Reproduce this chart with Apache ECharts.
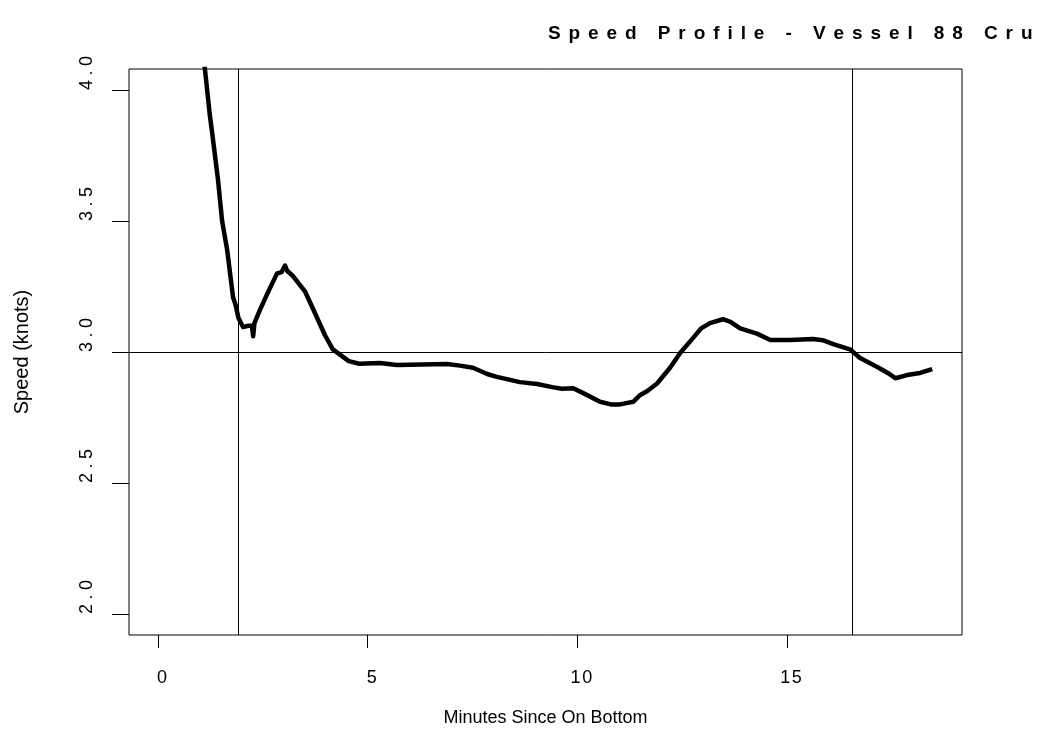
<!DOCTYPE html>
<html>
<head>
<meta charset="utf-8">
<title>Speed Profile</title>
<script src="https://cdn.jsdelivr.net/npm/echarts@6/dist/echarts.min.js"></script>
<style>
html, body { margin: 0; padding: 0; background: #fff; }
#chart { width: 1041px; height: 745px; }
</style>
</head>
<body>
<div id="chart"></div>
<script>
// 数据：航速曲线（分钟, 节）
var minutes = [0.0, 0.5, 0.9, 1.12, 1.24, 1.29, 1.43, 1.53, 1.65, 1.79, 1.85, 1.92, 2.03, 2.15, 2.24, 2.27, 2.30,
    2.43, 2.6, 2.84, 2.95, 3.03, 3.08, 3.22, 3.51, 3.74, 3.98, 4.17, 4.34, 4.55, 4.8, 5.29, 5.7, 6.3, 6.89,
    7.2, 7.51, 7.85, 8.08, 8.63, 9.04, 9.4, 9.63, 9.9, 10.14, 10.54, 10.8, 11.02, 11.33, 11.5, 11.66, 11.9,
    12.21, 12.45, 12.74, 12.95, 13.16, 13.47, 13.65, 13.88, 14.28, 14.6, 15.07, 15.62, 15.85, 16.1, 16.5,
    16.74, 17.15, 17.4, 17.58, 17.86, 18.17, 18.46];
var speed = [6.0, 5.0, 4.4, 4.08, 3.90, 3.84, 3.66, 3.50, 3.39, 3.21, 3.18, 3.13, 3.095, 3.10, 3.10, 3.06, 3.11,
    3.16, 3.22, 3.30, 3.305, 3.33, 3.31, 3.29, 3.23, 3.15, 3.065, 3.01, 2.99, 2.965, 2.955, 2.958, 2.95, 2.952, 2.954,
    2.948, 2.94, 2.916, 2.905, 2.885, 2.878, 2.866, 2.86, 2.862, 2.843, 2.81, 2.80, 2.80, 2.81, 2.836, 2.85, 2.88,
    2.94, 2.996, 3.05, 3.09, 3.11, 3.125, 3.115, 3.09, 3.07, 3.046, 3.046, 3.05, 3.045, 3.03, 3.01,
    2.977, 2.943, 2.92, 2.90, 2.912, 2.92, 2.935];

var xTicks = [0, 5, 10, 15];
var yTicks = [2.0, 2.5, 3.0, 3.5, 4.0];
var vLines = [1.91, 16.55];   // 竖线位置（分钟）
var hLines = [3.0];           // 横线位置（节）

var titleText = "Speed Profile - Vessel 88 Cru";
var xName = "Minutes Since On Bottom";
var yName = "Speed (knots)";

/*
 * 字符间加间隔，模拟原图的字距
 */
function spaced(s, sep) {
    return s.split("").join(sep);
}

var points = [];
for (var i = 0; i < minutes.length; i ++) {
    points.push([minutes[i], speed[i]]);
}

var markData = [];
for (var i = 0; i < vLines.length; i ++) {
    markData.push({xAxis: vLines[i]});
}
for (var i = 0; i < hLines.length; i ++) {
    markData.push({yAxis: hLines[i]});
}

var FONT = "'Liberation Sans', Arial, sans-serif";

var chart = echarts.init(document.getElementById("chart"));
chart.setOption({
    animation: false,
    backgroundColor: "#fff",
    textStyle: { fontFamily: FONT, color: "#000" },
    title: {
        text: spaced(titleText, "\u2005\u2006"),
        left: 543,
        top: 19,
        textStyle: { fontFamily: FONT, fontSize: 19, fontWeight: "bold", color: "#000" }
    },
    grid: {
        left: 129, right: 79, top: 69, bottom: 110,
        show: true, borderColor: "#000", borderWidth: 1, backgroundColor: "transparent"
    },
    xAxis: {
        type: "value",
        min: -0.69, max: 19.17,
        name: xName,
        nameLocation: "middle",
        nameGap: 74,
        nameTextStyle: { fontFamily: FONT, fontSize: 18, color: "#000" },
        axisLine: { show: false, onZero: false },
        splitLine: { show: false },
        axisTick: { show: true, customValues: xTicks, length: 13, lineStyle: { color: "#000", width: 1 } },
        axisLabel: {
            customValues: xTicks,
            margin: 34,
            fontFamily: FONT,
            fontSize: 18,
            color: "#000",
            padding: [0, 0, 0, 8],
            formatter: function(v) { return spaced(String(v), "\u200a"); }
        }
    },
    yAxis: {
        type: "value",
        min: 1.92, max: 4.08,
        name: yName,
        nameLocation: "middle",
        nameRotate: 90,
        nameGap: 97,
        nameTextStyle: { fontFamily: FONT, fontSize: 20, color: "#000" },
        axisLine: { show: false, onZero: false },
        splitLine: { show: false },
        axisTick: { show: true, customValues: yTicks, length: 17, lineStyle: { color: "#000", width: 1 } },
        axisLabel: {
            customValues: yTicks,
            rotate: 90,
            align: "left",
            verticalAlign: "bottom",
            margin: 33,
            fontFamily: FONT,
            fontSize: 18,
            color: "#000",
            formatter: function(v) { return spaced(v.toFixed(1), "\u2005"); }
        }
    },
    series: [{
        type: "line",
        data: points,
        symbol: "none",
        showSymbol: false,
        clip: true,
        smooth: false,
        lineStyle: { color: "#000", width: 4.5, join: "round" },
        markLine: {
            silent: true,
            symbol: ["none", "none"],
            label: { show: false },
            lineStyle: { color: "#000", width: 1, type: "solid" },
            data: markData
        }
    }]
});
</script>
</body>
</html>
